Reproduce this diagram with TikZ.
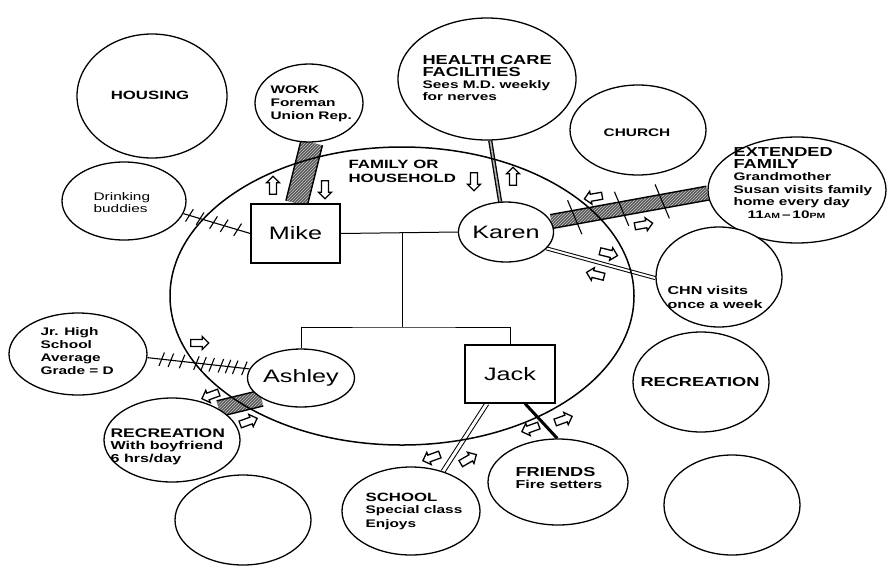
\documentclass[tikz,border=0pt]{standalone}
\usepackage{fontspec}
\setmainfont{Liberation Sans}[FakeStretch=1.4]
\usetikzlibrary{shapes.geometric,shapes.arrows,calc,patterns,decorations.markings}
\pgfdeclarelayer{bg}
\pgfsetlayers{bg,main}
\newcommand\fs[2]{\fontsize{#1}{#2}\selectfont}
\newcommand\tk{\draw[line width=1.1pt] (-2pt,-7pt)--(2pt,7pt);}
\newcommand\tkl{\draw[line width=1.1pt] (-4pt,18pt)--(4pt,-18pt);}
\newcommand\band[3]{%
  \path[fill=black!65] ($(#1)!#3!90:(#2)$) -- ($(#1)!#3!-90:(#2)$) -- ($(#2)!#3!90:(#1)$) -- ($(#2)!#3!-90:(#1)$) -- cycle;
  \path[pattern=north east lines, pattern color=gray!45] ($(#1)!#3!90:(#2)$) -- ($(#1)!#3!-90:(#2)$) -- ($(#2)!#3!90:(#1)$) -- ($(#2)!#3!-90:(#1)$) -- cycle;
  \draw[line width=1.4pt] ($(#1)!#3!90:(#2)$) -- ($(#2)!#3!-90:(#1)$);
  \draw[line width=1.4pt] ($(#1)!#3!-90:(#2)$) -- ($(#2)!#3!90:(#1)$);
}
\begin{document}
\begin{tikzpicture}[x=1pt,y=-1pt,line width=1.2pt,
  eco/.style={ellipse, draw, fill=white, line width=1.3pt, inner sep=0pt},
  person/.style={draw, fill=white, line width=1.3pt, inner sep=0pt, font=\fs{18}{20}},
  hd/.style={anchor=north west, align=left, inner sep=0pt},
  ctr/.style={inner sep=0pt},
  blk/.style={single arrow, draw, fill=white, line width=1.3pt, minimum height=18pt, minimum width=13pt, single arrow head extend=2.8pt, inner sep=2.7pt}]
\useasboundingbox (0,0) rectangle (888,571);
% outer systems
\node[eco, minimum width=150pt, minimum height=124pt] (housing) at (152,96) {};
\node[eco, minimum width=108pt, minimum height=78pt] (work) at (309,103) {};
\node[eco, minimum width=178pt, minimum height=122pt] (health) at (487,79) {};
\node[eco, minimum width=136pt, minimum height=90pt] (church) at (638,130) {};
\node[eco, minimum width=178pt, minimum height=106pt] (extended) at (797,190) {};
\node[eco, minimum width=124pt, minimum height=78pt] (drink) at (124,201) {};
\node[eco, minimum width=126pt, minimum height=100pt] (chn) at (719,277) {};
\node[eco, minimum width=138pt, minimum height=82pt] (jr) at (78,354) {};
\node[eco, minimum width=136pt, minimum height=84pt] (recb) at (172,440) {};
\node[eco, minimum width=136pt, minimum height=100pt] (recr) at (701,382) {};
\node[eco, minimum width=138pt, minimum height=88pt] (school) at (411,511) {};
\node[eco, minimum width=140pt, minimum height=86pt] (friends) at (558,482) {};
\node[eco, minimum width=136pt, minimum height=90pt] (emptya) at (243,520) {};
\node[eco, minimum width=136pt, minimum height=100pt] (emptyb) at (732,505) {};
% family circle
\node[ellipse, draw, line width=1.5pt, minimum width=464pt, minimum height=298pt, inner sep=0pt] (family) at (402,296) {};
% persons
\node[person, minimum width=89pt, minimum height=59pt] (mike) at (295.5,233.5) {Mike};
\node[person, ellipse, minimum width=90pt, minimum height=60pt] (karen) at (506,232) {Karen};
\node[person, ellipse, minimum width=90pt, minimum height=58pt] (ashley) at (301,378) {Ashley};
\node[person, minimum width=90pt, minimum height=58pt] (jack) at (510,374) {Jack};
% texts
\node[ctr, font=\bfseries\fs{12}{14}] (thousing) at (150,95) {HOUSING};
\node[hd, font=\bfseries\fs{11}{13}] (twork) at (270,85) {WORK\\Foreman\\Union Rep.};
\node[hd, font=\bfseries\fs{13}{11.5}] (thealth) at (422,55) {HEALTH CARE\\FACILITIES};
\node[hd, font=\bfseries\fs{11}{12}] (shealth) at (422,80) {Sees M.D. weekly\\for nerves};
\node[ctr, font=\bfseries\fs{11}{13}] (tchurch) at (637,133) {CHURCH};
\node[hd, font=\bfseries\fs{13}{11.5}] (text) at (733,147) {EXTENDED\\FAMILY};
\node[hd, font=\bfseries\fs{11}{12.7}] (sext) at (733,172) {Grandmother\\Susan visits family\\home every day\\\hspace*{14pt}11{\fs{7.5}{8}AM}\,--\,10{\fs{7.5}{8}PM}};
\node[hd, font=\fs{11}{12}] (tdrink) at (93,192) {Drinking\\buddies};
\node[hd, font=\bfseries\fs{11.5}{14}] (tchn) at (667,286) {CHN visits\\once a week};
\node[hd, font=\bfseries\fs{11}{13}] (tjr) at (40,327) {Jr. High\\School\\Average\\Grade = D};
\node[hd, font=\bfseries\fs{12.5}{13}] (trecb) at (110,428) {RECREATION};
\node[hd, font=\bfseries\fs{11.5}{13}] (srecb) at (110,441) {With boyfriend\\6 hrs/day};
\node[ctr, font=\bfseries\fs{13}{14}] (trecr) at (700,382) {RECREATION};
\node[hd, font=\bfseries\fs{12}{13}] (tschool) at (365,493) {SCHOOL};
\node[hd, font=\bfseries\fs{11}{14}] (sschool) at (365,505) {Special class\\Enjoys};
\node[hd, font=\bfseries\fs{13}{13}] (tfriends) at (515,467) {FRIENDS};
\node[hd, font=\bfseries\fs{11.5}{13}] (sfriends) at (515,480) {Fire setters};
\node[hd, font=\bfseries\fs{12}{14}] (tfamily) at (348,160) {FAMILY OR\\HOUSEHOLD};
% genogram lines
\coordinate (m) at (402,233);
\coordinate (c) at (402,327);
\draw[line width=1pt] (mike.east) -- (karen.west);
\draw[line width=1pt] (m) -- (c);
\draw[line width=1pt] (ashley.north) |- (c) -| (jack.north);
% connectors
\begin{pgfonlayer}{bg}
\band{work.-86}{mike.88}{11pt}
\band{karen.13}{extended.182}{7pt}
\band{ashley.207}{recb.34}{8pt}
\draw[line width=1.3pt, double=gray!60, double distance=1.6pt] (health.-87) -- (karen.101);
\draw[line width=1pt, double=white, double distance=2pt] (karen.-22) -- (chn.181);
\draw[line width=1pt, double=white, double distance=3pt] (jack.-128) -- (school.51);
\draw[line width=3pt] (jack.-63) -- (friends.91);
\draw[line width=1.1pt, postaction={decorate}, decoration={markings,
  mark=at position .09 with {\tk}, mark=at position .25 with {\tk},
  mark=at position .45 with {\tk}, mark=at position .61 with {\tk},
  mark=at position .81 with {\tk}}] (drink.-12) -- (mike.west);
\draw[line width=1.1pt, postaction={decorate}, decoration={markings,
  mark=at position .14 with {\tk}, mark=at position .23 with {\tk},
  mark=at position .34 with {\tk}, mark=at position .48 with {\tk},
  mark=at position .55 with {\tk}, mark=at position .63 with {\tk},
  mark=at position .72 with {\tk}, mark=at position .79 with {\tk},
  mark=at position .86 with {\tk}, mark=at position .95 with {\tk}}] (jr.-3) -- (ashley.170);
\path[postaction={decorate}, decoration={markings,
  mark=at position .15 with {\tkl}, mark=at position .45 with {\tkl},
  mark=at position .71 with {\tkl}}] (karen.13) -- (extended.182);
\end{pgfonlayer}
% energy-flow arrows
\node[blk, rotate=90] (a1) at (273,187) {};
\node[blk, rotate=-90] (a2) at (325,188) {};
\node[blk, rotate=-90] (a3) at (474,180) {};
\node[blk, rotate=90] (a4) at (513,178) {};
\node[blk, rotate=190] (a5) at (595,197) {};
\node[blk, rotate=10] (a6) at (642,225) {};
\node[blk, rotate=-14] (a7) at (607,253) {};
\node[blk, rotate=166] (a8) at (597,275) {};
\node[blk, rotate=0] (a9) at (198,343) {};
\node[blk, rotate=200] (a10) at (212,395) {};
\node[blk, rotate=20] (a11) at (247,422) {};
\node[blk, rotate=200] (a12) at (433,457) {};
\node[blk, rotate=30] (a13) at (467,460) {};
\node[blk, rotate=200] (a14) at (532,428) {};
\node[blk, rotate=20] (a15) at (562,420) {};
\end{tikzpicture}
\end{document}
